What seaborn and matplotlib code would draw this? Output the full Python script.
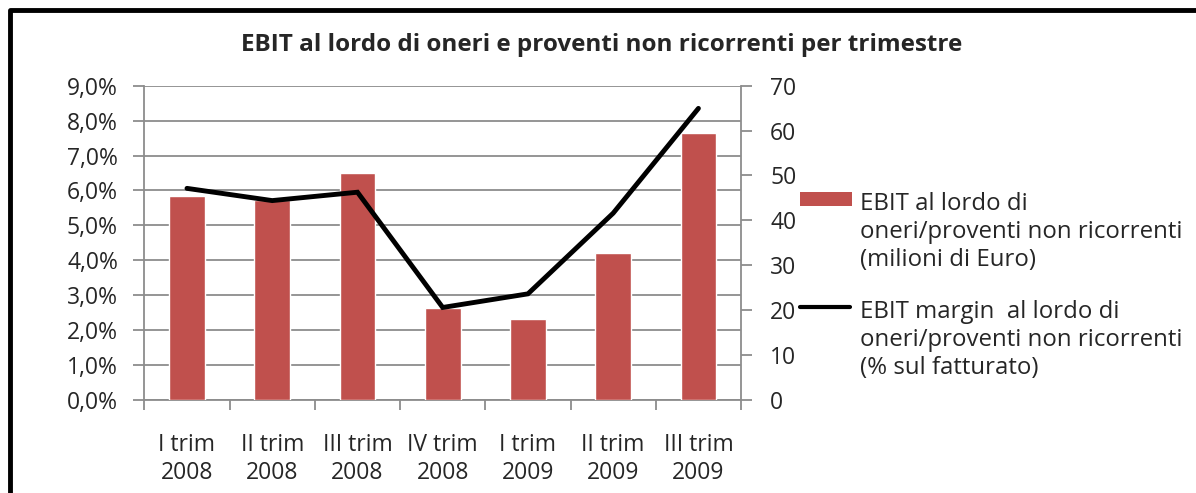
import numpy as np
import pandas as pd
import matplotlib
matplotlib.use('Agg')
import matplotlib.pyplot as plt
from matplotlib.patches import Rectangle
from matplotlib.lines import Line2D
from matplotlib.ticker import FuncFormatter, FixedLocator
import seaborn as sns

# data
trimestri = ['I trim\n2008', 'II trim\n2008', 'III trim\n2008', 'IV trim\n2008',
             'I trim\n2009', 'II trim\n2009', 'III trim\n2009']
ebit_mln = [45.4, 44.5, 50.5, 20.6, 18.1, 32.7, 59.5]      # milioni di Euro
ebit_margin = [6.06, 5.71, 5.95, 2.65, 3.04, 5.35, 8.35]   # % sul fatturato

df = pd.DataFrame({'trim': trimestri, 'ebit': ebit_mln, 'margin': ebit_margin})

sns.set_style('white')
plt.rcParams['font.family'] = ['Open Sans', 'DejaVu Sans']

red = '#C0504D'
grey = '#8C8C8C'
fs = 16.5
fs_leg = 17.3

W, H = 1196, 493
fig = plt.figure(figsize=(W / 100, H / 100), dpi=100)
ax = fig.add_axes([0.1207, 0.1886, 0.4989, 0.6376])
axb = ax.twinx()
axl = ax.twinx()

# bars (right axis, milioni)
sns.barplot(data=df, x='trim', y='ebit', color=red, saturation=1, width=0.42, ax=axb)
axb.set_ylim(0, 70)
axb.set_yticks(range(0, 71, 10))
axb.set_ylabel('')
axb.set_xlabel('')

# line (left axis, %)
sns.lineplot(data=df, x='trim', y='margin', color='black', linewidth=3.5,
             sort=False, ax=axl, solid_capstyle='round', solid_joinstyle='miter')
axl.set_ylim(0, 9)
axl.set_axis_off()

# left % axis with grid
for a in (ax, axb, axl):
    a.set_xlim(-0.5, 6.5)
ax.set_ylim(0, 9)
ax.set_yticks(np.arange(0, 9.1, 1))
ax.yaxis.set_major_formatter(FuncFormatter(lambda v, p: f'{v:.1f}%'.replace('.', ',')))
ax.grid(axis='y', color=grey, linewidth=1.3)
ax.set_axisbelow(True)

ax.set_xticks(range(len(trimestri)))
ax.set_xticklabels(trimestri, linespacing=1.2)
ax.xaxis.set_minor_locator(FixedLocator(np.arange(-0.5, 7, 1)))
ax.tick_params(axis='x', which='major', length=0, pad=24, labelsize=fs)
ax.tick_params(axis='x', which='minor', length=7, width=1.3, color=grey, direction='out')
ax.tick_params(axis='y', length=8, width=1.3, color=grey, direction='out', labelsize=fs, pad=11)
ax.tick_params(left=True, bottom=True, which='both')
axb.tick_params(axis='y', length=8, width=1.3, color=grey, direction='out', labelsize=fs, pad=13)
axb.tick_params(axis='x', bottom=False, labelbottom=False)

for a in (ax, axb, axl):
    for s in a.spines.values():
        s.set_visible(False)
for s in (ax.spines['left'], ax.spines['bottom'], axb.spines['right']):
    s.set_visible(True)
    s.set_color(grey)
    s.set_linewidth(1.3)

fig.text(602 / W, 1 - 45 / H, 'EBIT al lordo di oneri e proventi non ricorrenti per trimestre',
         ha='center', va='center', fontsize=17.5, fontweight='bold')

# legend, keys aligned with the first line of each entry
lab_bar = 'EBIT al lordo di\noneri/proventi non ricorrenti\n(milioni di Euro)'
lab_line = 'EBIT margin  al lordo di\noneri/proventi non ricorrenti\n(% sul fatturato)'
fig.add_artist(Rectangle((800 / W, 1 - 206 / H), 52 / W, 14 / H,
                         transform=fig.transFigure, facecolor=red, edgecolor='none'))
fig.add_artist(Line2D([800 / W, 850 / W], [1 - 307 / H, 1 - 307 / H],
                      transform=fig.transFigure, color='black', linewidth=3))
fig.text(860 / W, 1 - 232 / H, lab_bar, ha='left', va='center', fontsize=fs_leg, linespacing=1.25)
fig.text(860 / W, 1 - 340 / H, lab_line, ha='left', va='center', fontsize=fs_leg, linespacing=1.25)

# outer chart border (left and top edges visible)
fig.add_artist(Line2D([0.0085, 0.0085, 1.0], [0.0, 0.9797, 0.9797],
                      transform=fig.transFigure, color='black', linewidth=3.5))

fig.savefig('out.png', dpi=100)
